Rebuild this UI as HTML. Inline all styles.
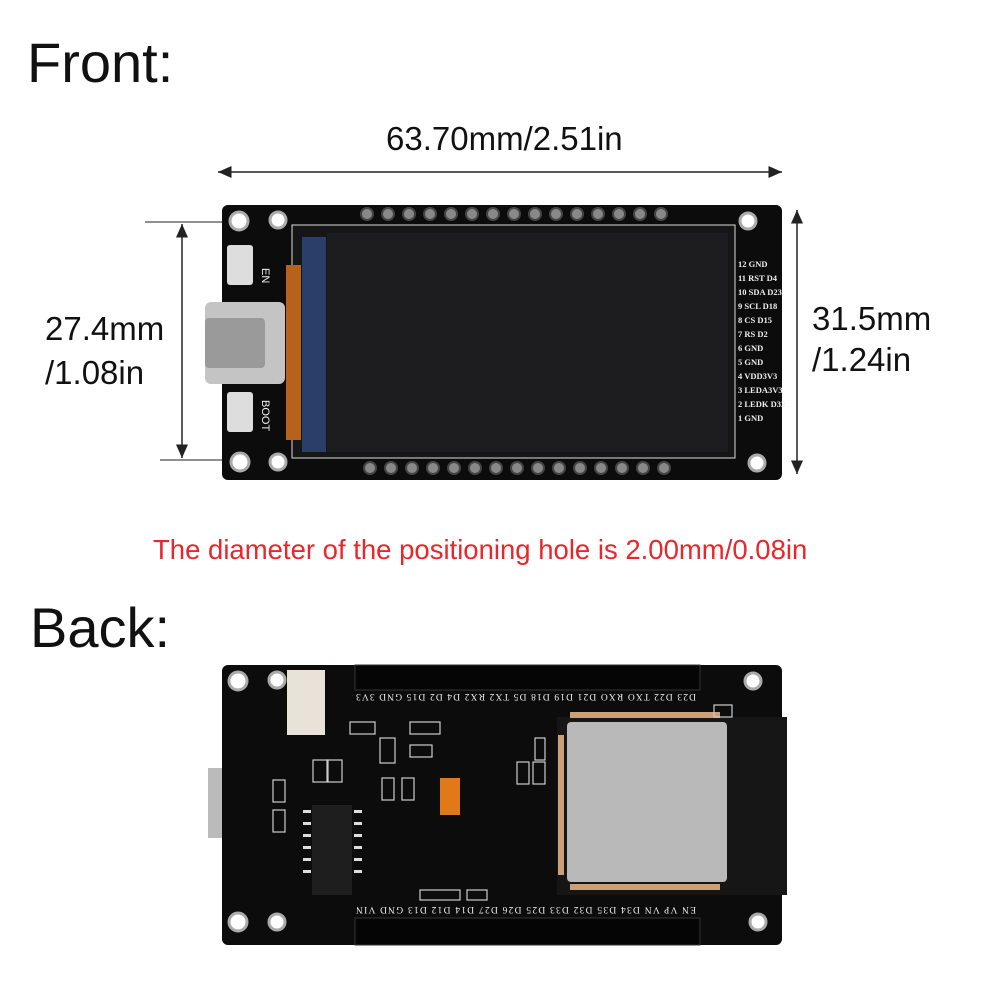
<!DOCTYPE html>
<html><head><meta charset="utf-8"><style>
body{margin:0;width:1000px;height:1000px;background:#fff;position:relative;overflow:hidden;font-family:"Liberation Sans","DejaVu Sans",sans-serif;}
.t{position:absolute;color:#111;white-space:nowrap}
</style></head><body>
<div class="t" style="left:27px;top:30px;font-size:56px;">Front:</div>
<div class="t" style="left:386px;top:120px;font-size:33px;">63.70mm/2.51in</div>
<div class="t" style="left:45px;top:310px;font-size:33px;">27.4mm</div>
<div class="t" style="left:45px;top:354px;font-size:33px;">/1.08in</div>
<div class="t" style="left:812px;top:300px;font-size:33px;">31.5mm</div>
<div class="t" style="left:812px;top:341px;font-size:33px;">/1.24in</div>
<div class="t" style="left:153px;top:534px;font-size:27.5px;color:#e8262b;">The diameter of the positioning hole is 2.00mm/0.08in</div>
<div class="t" style="left:30px;top:595px;font-size:56px;">Back:</div>
<svg width="1000" height="1000" style="position:absolute;left:0;top:0">
<defs><marker id="a" markerWidth="10" markerHeight="10" refX="9" refY="5" orient="auto"><path d="M0,1 L9,5 L0,9 z" fill="#222"/></marker></defs>
<g stroke="#222" stroke-width="1.5">
<line x1="500" y1="172" x2="218" y2="172" marker-end="url(#a)"/>
<line x1="500" y1="172" x2="782" y2="172" marker-end="url(#a)"/>
<line x1="182" y1="340" x2="182" y2="224" marker-end="url(#a)"/>
<line x1="182" y1="340" x2="182" y2="458" marker-end="url(#a)"/>
<line x1="797" y1="340" x2="797" y2="210" marker-end="url(#a)"/>
<line x1="797" y1="340" x2="797" y2="474" marker-end="url(#a)"/>
<line x1="145" y1="222" x2="238" y2="222" stroke-width="1"/>
<line x1="160" y1="460" x2="238" y2="460" stroke-width="1"/>
</g>
<!-- FRONT -->
<rect x="222" y="205" width="560" height="275" rx="6" fill="#0c0c0c"/>
<rect x="292" y="225" width="443" height="233" fill="#161616" stroke="#ddd" stroke-width="1"/>
<rect x="327" y="233" width="401" height="219" fill="#1d1d20"/>
<rect x="302" y="237" width="24" height="215" fill="#2a3e6a"/>
<rect x="286" y="265" width="15" height="175" fill="#b5621a"/>
<rect x="205" y="302" width="80" height="82" rx="6" fill="#c4c4c4"/>
<rect x="205" y="318" width="60" height="50" rx="4" fill="#9a9a9a"/>
<rect x="227" y="245" width="26" height="40" rx="3" fill="#ddd"/>
<rect x="227" y="392" width="26" height="40" rx="3" fill="#ddd"/>
<g fill="#fff" stroke="#aaa" stroke-width="3">
<circle cx="239" cy="221" r="9"/><circle cx="240" cy="462" r="9"/>
<circle cx="278" cy="220" r="8"/><circle cx="278" cy="462" r="8"/>
<circle cx="748" cy="221" r="8"/><circle cx="757" cy="463" r="8"/>
</g>
<g fill="#888" stroke="#444" stroke-width="2">
<circle cx="367" cy="214" r="6"/><circle cx="388" cy="214" r="6"/><circle cx="409" cy="214" r="6"/><circle cx="430" cy="214" r="6"/><circle cx="451" cy="214" r="6"/><circle cx="472" cy="214" r="6"/><circle cx="493" cy="214" r="6"/><circle cx="514" cy="214" r="6"/><circle cx="535" cy="214" r="6"/><circle cx="556" cy="214" r="6"/><circle cx="577" cy="214" r="6"/><circle cx="598" cy="214" r="6"/><circle cx="619" cy="214" r="6"/><circle cx="640" cy="214" r="6"/><circle cx="661" cy="214" r="6"/>
<circle cx="370" cy="468" r="6"/><circle cx="391" cy="468" r="6"/><circle cx="412" cy="468" r="6"/><circle cx="433" cy="468" r="6"/><circle cx="454" cy="468" r="6"/><circle cx="475" cy="468" r="6"/><circle cx="496" cy="468" r="6"/><circle cx="517" cy="468" r="6"/><circle cx="538" cy="468" r="6"/><circle cx="559" cy="468" r="6"/><circle cx="580" cy="468" r="6"/><circle cx="601" cy="468" r="6"/><circle cx="622" cy="468" r="6"/><circle cx="643" cy="468" r="6"/><circle cx="664" cy="468" r="6"/>
</g>
<g fill="#eee" font-family="Liberation Serif,serif" font-size="8.5" font-weight="bold">
<text x="738" y="267">12 GND</text><text x="738" y="281">11 RST D4</text><text x="738" y="295">10 SDA D23</text><text x="738" y="309">9 SCL D18</text><text x="738" y="323">8 CS D15</text><text x="738" y="337">7 RS D2</text><text x="738" y="351">6 GND</text><text x="738" y="365">5 GND</text><text x="738" y="379">4 VDD3V3</text><text x="738" y="393">3 LEDA3V3</text><text x="738" y="407">2 LEDK D32</text><text x="738" y="421">1 GND</text>
</g>
<text x="262" y="268" fill="#eee" font-size="11" transform="rotate(90 262 268)">EN</text>
<text x="262" y="400" fill="#eee" font-size="11" transform="rotate(90 262 400)">BOOT</text>
<!-- BACK -->
<rect x="222" y="665" width="560" height="280" rx="6" fill="#0c0c0c"/>
<rect x="355" y="665" width="345" height="25" fill="#050505" stroke="#333"/>
<rect x="355" y="918" width="345" height="27" fill="#050505" stroke="#333"/>
<rect x="557" y="717" width="230" height="178" fill="#161616"/>
<rect x="567" y="722" width="160" height="160" rx="4" fill="#b9b9b9"/>
<g fill="#c9a07a"><rect x="570" y="712" width="150" height="6"/><rect x="570" y="884" width="150" height="6"/><rect x="558" y="735" width="6" height="140"/></g>
<rect x="287" y="670" width="38" height="65" fill="#e8e2d8"/>
<rect x="440" y="778" width="20" height="37" fill="#e07a18"/>
<rect x="312" y="805" width="40" height="90" fill="#1e1e1e"/>
<g fill="#ddd"><rect x="303" y="810" width="8" height="3"/><rect x="303" y="822" width="8" height="3"/><rect x="303" y="834" width="8" height="3"/><rect x="303" y="846" width="8" height="3"/><rect x="303" y="858" width="8" height="3"/><rect x="303" y="870" width="8" height="3"/><rect x="354" y="810" width="8" height="3"/><rect x="354" y="822" width="8" height="3"/><rect x="354" y="834" width="8" height="3"/><rect x="354" y="846" width="8" height="3"/><rect x="354" y="858" width="8" height="3"/><rect x="354" y="870" width="8" height="3"/></g>
<g fill="none" stroke="#ccc" stroke-width="1.2">
<rect x="313" y="760" width="15" height="22"/><rect x="327" y="760" width="15" height="22"/><rect x="350" y="722" width="25" height="12"/><rect x="380" y="738" width="15" height="25"/><rect x="382" y="778" width="12" height="22"/><rect x="402" y="778" width="12" height="22"/><rect x="410" y="722" width="30" height="12"/><rect x="410" y="745" width="22" height="12"/><rect x="517" y="762" width="12" height="22"/><rect x="533" y="762" width="12" height="22"/><rect x="535" y="738" width="10" height="22"/><rect x="273" y="780" width="12" height="22"/><rect x="273" y="810" width="12" height="22"/><rect x="420" y="890" width="40" height="10"/><rect x="467" y="890" width="20" height="10"/><rect x="714" y="705" width="18" height="12"/>
</g>
<rect x="208" y="768" width="14" height="70" fill="#bbb"/>
<g fill="#fff" stroke="#aaa" stroke-width="3">
<circle cx="238" cy="681" r="9"/><circle cx="277" cy="680" r="8"/><circle cx="753" cy="681" r="8"/>
<circle cx="238" cy="922" r="9"/><circle cx="277" cy="922" r="8"/><circle cx="758" cy="922" r="8"/>
</g>
<g fill="#eee" font-family="Liberation Serif,serif" font-size="9.5" transform="rotate(180 528 697)">
<text x="360" y="700" textLength="340">D23 D22 TXO RXO D21 D19 D18 D5 TX2 RX2 D4 D2 D15 GND 3V3</text>
</g>
<g fill="#eee" font-family="Liberation Serif,serif" font-size="9.5" transform="rotate(180 528 910)">
<text x="360" y="913" textLength="340">EN VP VN D34 D35 D32 D33 D25 D26 D27 D14 D12 D13 GND VIN</text>
</g>
</svg>
</body></html>
